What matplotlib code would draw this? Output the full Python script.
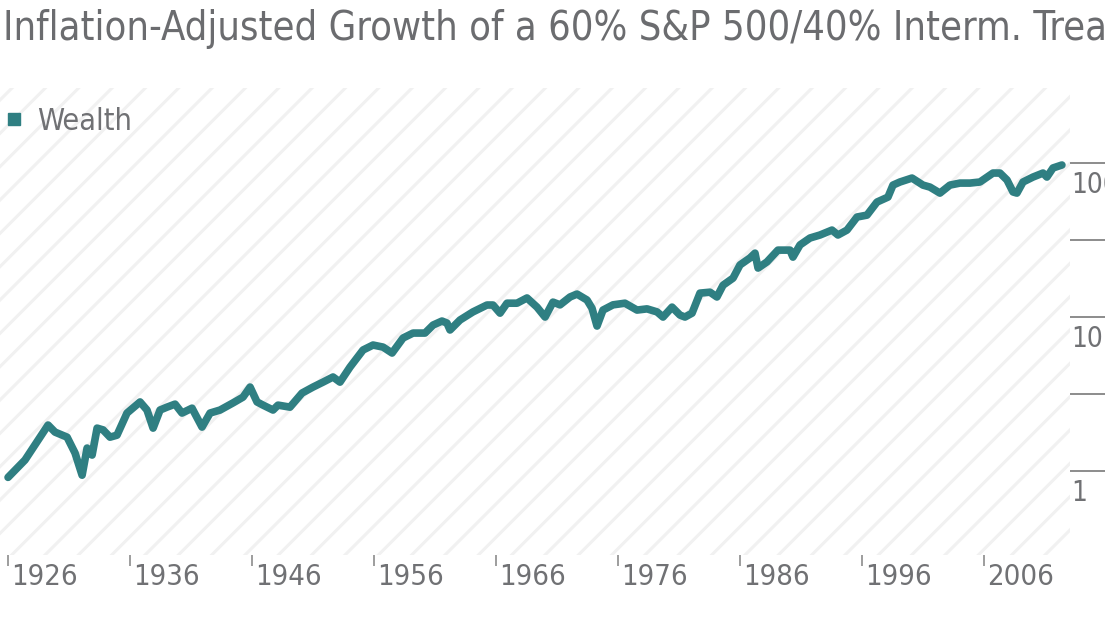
import matplotlib
matplotlib.use("Agg")
import matplotlib.pyplot as plt
from matplotlib.lines import Line2D
from matplotlib.patches import Rectangle
import numpy as np

plt.rcParams["font.family"] = ["DejaVu Sans"]
plt.rcParams["font.stretch"] = "condensed"
plt.rcParams["hatch.linewidth"] = 2.2

# 60/40 ポートフォリオの実質資産 (1926年 = 1 として読み取り)
years = [
    1926.00, 1927.39, 1929.28, 1929.85, 1930.84, 1931.49, 1932.07, 1932.48,
    1932.89, 1933.30, 1933.79, 1934.36, 1934.93, 1935.75, 1936.82, 1937.39,
    1937.89, 1938.46, 1939.03, 1939.69, 1940.26, 1941.08, 1941.90, 1942.56,
    1943.38, 1944.44, 1945.26, 1945.84, 1946.41, 1946.90, 1947.72, 1948.13,
    1949.11, 1950.10, 1951.00, 1951.82, 1952.64, 1953.21, 1954.03, 1955.10,
    1955.92, 1956.74, 1957.48, 1958.38, 1959.20, 1960.18, 1960.84, 1961.57,
    1961.98, 1962.23, 1963.05, 1964.11, 1965.26, 1965.75, 1966.33, 1966.90,
    1967.72, 1968.54, 1969.36, 1970.02, 1970.67, 1971.25, 1972.07, 1972.64,
    1973.46, 1973.87, 1974.28, 1974.77, 1975.59, 1976.57, 1977.56, 1978.38,
    1979.20, 1979.69, 1980.43, 1981.08, 1981.49, 1982.07, 1982.72, 1983.54,
    1984.11, 1984.61, 1985.43, 1986.00, 1986.82, 1987.23, 1987.48, 1988.21,
    1989.11, 1990.10, 1990.34, 1990.92, 1991.74, 1992.56, 1993.54, 1994.03,
    1994.77, 1995.59, 1996.41, 1997.23, 1998.13, 1998.54, 1999.11, 2000.10,
    2001.00, 2001.57, 2002.39, 2003.21, 2004.03, 2004.85, 2005.67, 2006.74,
    2007.31, 2007.89, 2008.38, 2008.70, 2009.20, 2010.02, 2010.84, 2011.16,
    2011.66, 2012.39,
]
wealth = [
    0.91, 1.18, 1.99, 1.79, 1.66, 1.31, 0.94, 1.41,
    1.27, 1.90, 1.85, 1.66, 1.71, 2.38, 2.81, 2.49,
    1.90, 2.49, 2.60, 2.72, 2.38, 2.56, 1.93, 2.38,
    2.49, 2.77, 3.02, 3.51, 2.81, 2.68, 2.49, 2.68,
    2.60, 3.21, 3.51, 3.78, 4.08, 3.78, 4.73, 6.11,
    6.58, 6.38, 5.84, 7.31, 7.87, 7.87, 8.87, 9.42,
    9.14, 8.24, 9.57, 10.8, 11.97, 11.97, 10.6, 12.3,
    12.3, 13.3, 11.6, 10.0, 12.5, 12.0, 13.5, 14.1,
    12.9, 11.4, 8.74, 11.1, 12.0, 12.3, 11.1, 11.3,
    10.8, 10.0, 11.6, 10.3, 10.0, 10.6, 14.3, 14.5,
    13.5, 16.1, 17.9, 21.8, 24.2, 26.0, 20.8, 22.8,
    27.2, 27.2, 24.5, 29.4, 32.6, 34.1, 36.7, 34.1,
    36.7, 44.6, 45.9, 55.8, 60.1, 71.9, 75.3, 79.9,
    71.9, 69.8, 63.8, 71.9, 74.1, 74.1, 75.3, 86.1,
    86.1, 77.6, 64.9, 63.8, 75.3, 81.1, 86.1, 81.1,
    92.9, 97.1,
]

xtick_years = [1926, 1936, 1946, 1956, 1966, 1976, 1986, 1996, 2006]
ytick_major = [1, 10, 100]
ytick_minor = [10 ** 0.5, 10 ** 1.5]

teal = "#2f7f82"
gray_text = "#707174"
gray_tick = "#8c8c8c"

fig = plt.figure(figsize=(11.05, 6.26), dpi=100)
ax = fig.add_axes([0.0, 0.1134, 0.9683, 0.746])

# 斜線の背景
bg = Rectangle((0, 0), 1, 1, transform=ax.transAxes, facecolor="white",
               edgecolor="#f1f1f1", hatch="/", linewidth=0, zorder=0)
ax.add_patch(bg)
ax.patch.set_visible(False)
for s in ax.spines.values():
    s.set_visible(False)

ax.plot(years, wealth, color=teal, lw=5.5, solid_capstyle="round",
        solid_joinstyle="round", zorder=3)

ax.set_yscale("log")
ax.set_ylim(0.285, 307)
ax.set_xlim(1925.34, 2013.05)

# x軸の目盛り
ax.set_xticks(xtick_years)
ax.set_xticklabels([])
ax.tick_params(axis="x", direction="out", length=8, width=1.2,
               color=gray_tick, bottom=True, top=False)
for yr in xtick_years:
    ax.annotate(str(yr), xy=(yr, 0), xycoords=("data", "axes fraction"),
                xytext=(2.5, -6), textcoords="offset points",
                ha="left", va="top", fontsize=21, color=gray_text)

# 右側のy軸
ax.yaxis.tick_right()
ax.set_yticks(ytick_major)
ax.set_yticks(ytick_minor, minor=True)
ax.set_yticklabels([])
ax.set_yticklabels([], minor=True)
ax.tick_params(axis="y", which="both", direction="out", length=26, width=1.4,
               color=gray_tick, pad=2, left=False, right=True)
for v in ytick_major:
    ax.annotate(str(v), xy=(1, v), xycoords=("axes fraction", "data"),
                xytext=(1, -6), textcoords="offset points",
                ha="left", va="top", fontsize=20, color=gray_text,
                annotation_clip=False)

handle = Line2D([], [], marker="s", ls="none", color=teal, markersize=8)
ax.legend([handle], ["Wealth"], loc="upper left", bbox_to_anchor=(-0.004, 0.973),
          frameon=False, fontsize=22, handletextpad=0.35, borderaxespad=0.0,
          borderpad=0.2, handlelength=0.8, labelcolor=gray_text)

fig.text(0.003, 0.985, "Inflation-Adjusted Growth of a 60% S&P 500/40% Interm. Treasury Portfolio",
         ha="left", va="top", fontsize=28.5, color="#6b6c6f")

fig.savefig("out.png", dpi=100)
